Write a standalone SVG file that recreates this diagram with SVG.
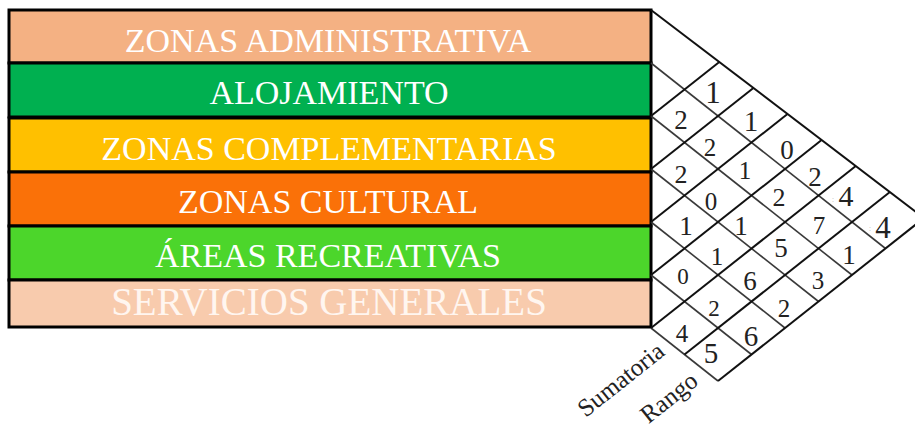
<svg xmlns="http://www.w3.org/2000/svg" width="915" height="430" viewBox="0 0 915 430">
<style>
.bar{stroke:#000;stroke-width:3}
.lbl{font-family:"Liberation Serif","Times New Roman",serif;fill:#fff;text-anchor:middle;font-size:34px}
.num{font-family:"Liberation Serif","Times New Roman",serif;fill:#222;text-anchor:middle}
.dr{stroke:#3a3a3a;stroke-width:1.6;fill:none}
.ur{stroke:#111;stroke-width:2;fill:none}
.axis{font-family:"Liberation Serif","Times New Roman",serif;fill:#222;font-size:25px;text-anchor:middle}
.mark{font-family:"Liberation Sans",Arial,sans-serif;fill:#aaa;font-size:7px;text-anchor:middle}
</style>
<rect width="915" height="430" fill="#fff"/>
<g id="row-administrativa"><rect class="bar" x="9" y="10" width="642" height="53" fill="#F4B183"/><text class="lbl" x="328" y="52">ZONAS ADMINISTRATIVA</text></g>
<g id="row-alojamiento"><rect class="bar" x="9" y="63" width="642" height="54" fill="#00B050"/><text class="lbl" x="329" y="104">ALOJAMIENTO</text></g>
<g id="row-complementarias"><rect class="bar" x="9" y="118" width="642" height="54" fill="#FFC000"/><text class="lbl" x="329" y="160">ZONAS COMPLEMENTARIAS</text></g>
<g id="row-cultural"><rect class="bar" x="9" y="172" width="642" height="54" fill="#FA7108"/><text class="lbl" x="328" y="213">ZONAS CULTURAL</text></g>
<g id="row-recreativas"><rect class="bar" x="9" y="226" width="642" height="54" fill="#4CD62B"/><text class="lbl" x="328" y="267">ÁREAS RECREATIVAS</text></g>
<g id="row-servicios"><rect class="bar" x="9" y="280" width="642" height="47" fill="#F8CBAD" stroke="#222" stroke-width="2.5"/><text class="lbl" x="329" y="315" style="font-size:39px;fill:#FFF6F0">SERVICIOS GENERALES</text></g>
<g id="matrix-grid">
<line class="ur" x1="651" y1="10" x2="924" y2="218"/>
<line class="dr" x1="651" y1="63" x2="885.5" y2="248.5"/>
<line class="dr" x1="651" y1="116" x2="852" y2="275"/>
<line class="dr" x1="651" y1="169" x2="818.5" y2="301.5"/>
<line class="dr" x1="651" y1="222" x2="785" y2="328"/>
<line class="dr" x1="651" y1="275" x2="751.5" y2="354.5"/>
<line class="dr" x1="651" y1="328" x2="718" y2="381"/>
<line class="ur" x1="651" y1="116" x2="719.3" y2="62"/>
<line class="ur" x1="651" y1="169" x2="753.4" y2="88"/>
<line class="ur" x1="651" y1="222" x2="787.5" y2="114"/>
<line class="ur" x1="651" y1="275" x2="821.6" y2="140"/>
<line class="ur" x1="651" y1="328" x2="855.8" y2="166"/>
<line class="ur" x1="684.5" y1="354.5" x2="889.9" y2="192"/>
<line class="ur" x1="718" y1="381" x2="924" y2="218"/>
</g>
<g id="matrix-values">
<text class="num" x="713" y="103" font-size="31">1</text>
<text class="num" x="681" y="129" font-size="27">2</text>
<text class="num" x="751" y="131" font-size="29">1</text>
<text class="num" x="710" y="156" font-size="25">2</text>
<text class="num" x="787" y="159" font-size="27">0</text>
<text class="num" x="681" y="183" font-size="26">2</text>
<text class="num" x="745" y="179" font-size="25">1</text>
<text class="num" x="815" y="186" font-size="27">2</text>
<text class="num" x="711" y="210" font-size="25">0</text>
<text class="num" x="779" y="206" font-size="26">2</text>
<text class="mark" x="833" y="202">:</text>
<text class="num" x="846" y="206" font-size="30">4</text>
<text class="num" x="686" y="235" font-size="27">1</text>
<text class="num" x="741" y="235" font-size="27">1</text>
<text class="num" x="819" y="234" font-size="25">7</text>
<text class="mark" x="870" y="231">:</text>
<text class="num" x="883" y="238" font-size="31">4</text>
<text class="num" x="717" y="265" font-size="25">1</text>
<text class="num" x="781" y="257" font-size="27">5</text>
<text class="num" x="849" y="264" font-size="27">1</text>
<text class="num" x="683" y="284" font-size="23">0</text>
<text class="num" x="750" y="290" font-size="27">6</text>
<text class="num" x="818" y="289" font-size="25">3</text>
<text class="num" x="714" y="316" font-size="23">2</text>
<text class="num" x="784" y="317" font-size="25">2</text>
<text class="num" x="682" y="342" font-size="25">4</text>
<text class="num" x="751" y="346" font-size="29">6</text>
<text class="num" x="711" y="363" font-size="29">5</text>
</g>
<g id="axis-labels">
<text class="axis" x="626" y="386" transform="rotate(-38.4 626 386)">Sumatoria</text>
<text class="axis" x="674" y="404" transform="rotate(-38.4 674 404)">Rango</text>
</g>
</svg>
